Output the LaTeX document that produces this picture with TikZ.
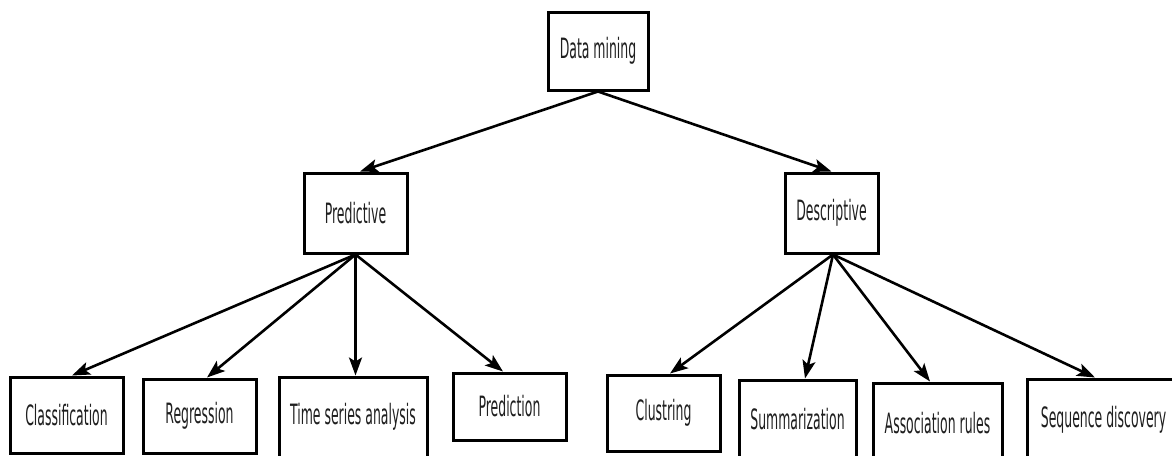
\documentclass[tikz,border=0pt]{standalone}
\usepackage{fontspec}
\usetikzlibrary{arrows.meta}
\newfontfamily\boxfont{DejaVu Sans}[FakeStretch=0.445]
\begin{document}
\begin{tikzpicture}[x=1pt,y=-1pt,
  box/.style={draw=black,line width=3pt,fill=white,inner sep=0pt,
    font=\boxfont\fontsize{28}{32}\selectfont,text=black!88},
  link/.style={line width=2.6pt,-{Stealth[length=18pt,width=13pt,inset=4pt]}}]
\useasboundingbox (0,0) rectangle (1172,455);
\clip (0,0) rectangle (1172,455);
\fill[white] (0,0) rectangle (1172,455);
% top level
\node[box,minimum width=100pt,minimum height=78pt] (dm) at (598,51) {Data mining};
% second level
\node[box,minimum width=103pt,minimum height=80pt] (pred) at (355.5,213) {Predictive};
\node[box,minimum width=93pt,minimum height=80pt] (desc) at (831.5,213) {Descriptive};
% leaves
\node[box,minimum width=113pt,minimum height=76pt] (cls) at (66.5,415) {Classification};
\node[box,minimum width=113pt,minimum height=74pt] (reg) at (199.5,416) {Regression};
\node[box,minimum width=148pt,minimum height=80pt] (tsa) at (353,417) {Time series analysis};
\node[box,minimum width=113pt,minimum height=67pt] (prd) at (509.5,406.5) {Prediction};
\node[box,minimum width=113pt,minimum height=76pt] (clu) at (663.5,413) {Clustring};
\node[box,minimum width=117pt,minimum height=78pt] (sum) at (797.5,419) {Summarization};
\node[box,minimum width=129pt,minimum height=80pt] (asr) at (937.5,423) {Association rules};
\node[box,minimum width=153pt,minimum height=82pt] (seq) at (1103.5,420) {Sequence discovery};
% connectors
\draw[link] (dm.south) -- ([xshift=4.5pt]pred.north);
\draw[link] (dm.south) -- (desc.north);
\draw[link] (pred.south) -- ([xshift=5.5pt]cls.north);
\draw[link] (pred.south) -- ([xshift=7.5pt]reg.north);
\draw[link] (pred.south) -- (pred.south |- tsa.north);
\draw[link] (pred.south) -- ([xshift=-6.5pt]prd.north);
\draw[link] ([xshift=1.5pt]desc.south) -- ([xshift=6.5pt]clu.north);
\draw[link] ([xshift=1.5pt]desc.south) -- ([xshift=7.5pt]sum.north);
\draw[link] ([xshift=1.5pt]desc.south) -- ([xshift=-7.5pt]asr.north);
\draw[link] ([xshift=1.5pt]desc.south) -- ([xshift=-8.5pt]seq.north);
\end{tikzpicture}
\end{document}
